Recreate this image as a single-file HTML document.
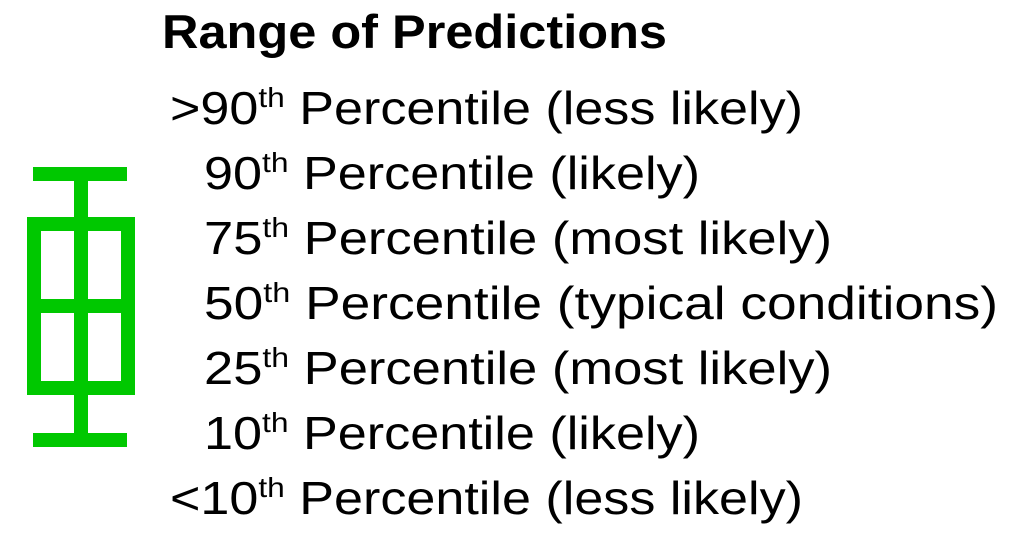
<!DOCTYPE html>
<html><head><meta charset="utf-8"><style>
html,body{margin:0;padding:0;background:#fff;}
svg{display:block;}
text{font-family:"Liberation Sans",Arial,sans-serif;fill:#000;}
</style></head><body>
<svg width="1011" height="543" viewBox="0 0 1011 543">
  <g fill="#00c800">
    <rect x="33" y="167" width="94" height="14"/>
    <rect x="74" y="181" width="14" height="36"/>
    <rect x="27" y="217" width="108" height="14"/>
    <rect x="27" y="217" width="14" height="178"/>
    <rect x="121" y="217" width="14" height="178"/>
    <rect x="27" y="381" width="108" height="14"/>
    <rect x="27" y="299" width="108" height="14"/>
    <rect x="74" y="217" width="14" height="178"/>
    <rect x="74" y="395" width="14" height="38"/>
    <rect x="33" y="433" width="94" height="14"/>
  </g>
  <text x="162" y="48" font-size="47" font-weight="bold" textLength="505" lengthAdjust="spacingAndGlyphs">Range of Predictions</text>
  <text x="170" y="124" font-size="46" textLength="633" lengthAdjust="spacingAndGlyphs">&gt;90<tspan font-size="28" dy="-17">th</tspan><tspan dy="17"> Percentile (less likely)</tspan></text>
  <text x="204" y="189" font-size="46" textLength="496" lengthAdjust="spacingAndGlyphs">90<tspan font-size="28" dy="-17">th</tspan><tspan dy="17"> Percentile (likely)</tspan></text>
  <text x="204" y="254" font-size="46" textLength="628" lengthAdjust="spacingAndGlyphs">75<tspan font-size="28" dy="-17">th</tspan><tspan dy="17"> Percentile (most likely)</tspan></text>
  <text x="204" y="319" font-size="46" textLength="794" lengthAdjust="spacingAndGlyphs">50<tspan font-size="28" dy="-17">th</tspan><tspan dy="17"> Percentile (typical conditions)</tspan></text>
  <text x="204" y="384" font-size="46" textLength="628" lengthAdjust="spacingAndGlyphs">25<tspan font-size="28" dy="-17">th</tspan><tspan dy="17"> Percentile (most likely)</tspan></text>
  <text x="204" y="449" font-size="46" textLength="496" lengthAdjust="spacingAndGlyphs">10<tspan font-size="28" dy="-17">th</tspan><tspan dy="17"> Percentile (likely)</tspan></text>
  <text x="170" y="514" font-size="46" textLength="633" lengthAdjust="spacingAndGlyphs">&lt;10<tspan font-size="28" dy="-17">th</tspan><tspan dy="17"> Percentile (less likely)</tspan></text>
</svg>
</body></html>
